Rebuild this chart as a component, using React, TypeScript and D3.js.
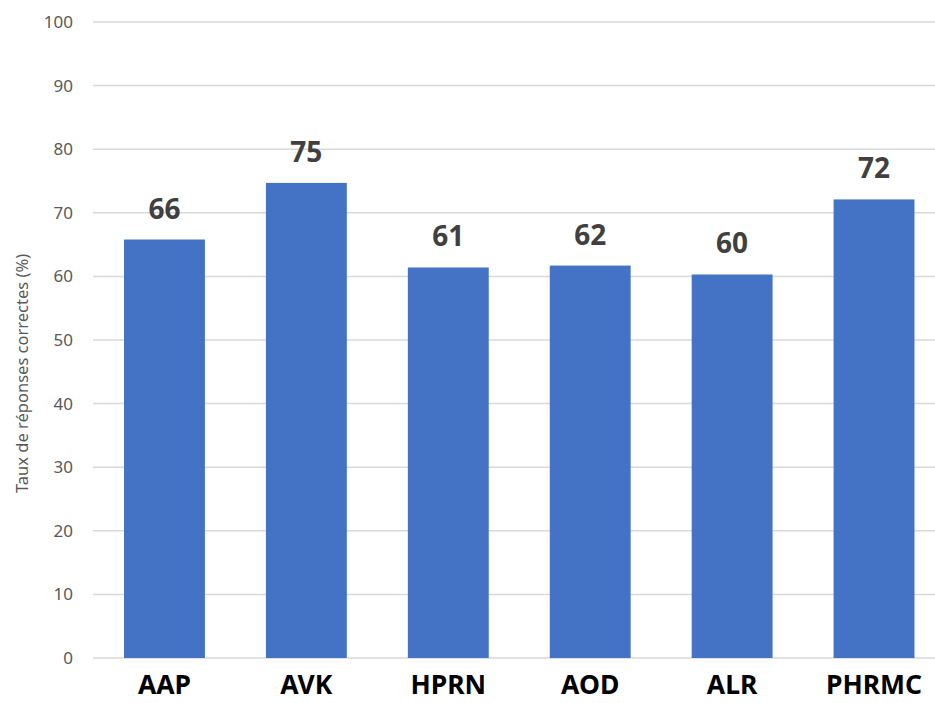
import React from "react";
import * as d3 from "d3";

const categories = ["AAP", "AVK", "HPRN", "AOD", "ALR", "PHRMC"];
const values = [65.8, 74.7, 61.4, 61.7, 60.3, 72.1];
const valueLabels = ["66", "75", "61", "62", "60", "72"];
const yTicks = [0, 10, 20, 30, 40, 50, 60, 70, 80, 90, 100];
const yTitle = "Taux de réponses correctes (%)";

const W = 935;
const H = 703;

export default function App() {
  const x = d3
    .scaleBand<string>()
    .domain(categories)
    .range([93.5, 945])
    .paddingInner(0.43)
    .paddingOuter(0.215);
  const y = d3.scaleLinear().domain([0, 100]).range([658, 22]);
  const font = "'Noto Sans', 'DejaVu Sans', sans-serif";

  return (
    <svg
      width={W}
      height={H}
      style={{ position: "absolute", left: 0, top: 0, background: "#fff" }}
    >
      <rect x={0} y={0} width={W} height={H} fill="#fff" />
      {yTicks.map((t) => (
        <g key={t}>
          <line
            x1={93}
            x2={W}
            y1={y(t)}
            y2={y(t)}
            stroke="#d9d9d9"
            strokeWidth={1.5}
          />
          <text
            x={73}
            y={y(t)}
            dy="0.35em"
            textAnchor="end"
            fontFamily={font}
            fontSize={17}
            fill="#595959"
          >
            {t}
          </text>
        </g>
      ))}
      <text
        transform={`translate(28,493) rotate(-90)`}
        textAnchor="start"
        fontFamily={font}
        fontSize={16.5}
        fill="#595959"
      >
        {yTitle}
      </text>
      {categories.map((c, i) => (
        <g key={c}>
          <rect
            x={x(c)}
            y={y(values[i])}
            width={x.bandwidth()}
            height={y(0) - y(values[i])}
            fill="#4472c4"
          />
          <text
            x={(x(c) as number) + x.bandwidth() / 2}
            y={y(values[i]) - 21}
            textAnchor="middle"
            fontFamily={font}
            fontWeight="bold"
            fontSize={28}
            fill="#404040"
          >
            {valueLabels[i]}
          </text>
          <text
            x={(x(c) as number) + x.bandwidth() / 2}
            y={694}
            textAnchor="middle"
            fontFamily={font}
            fontWeight="bold"
            fontSize={26.5}
            fill="#000"
          >
            {c}
          </text>
        </g>
      ))}
    </svg>
  );
}
